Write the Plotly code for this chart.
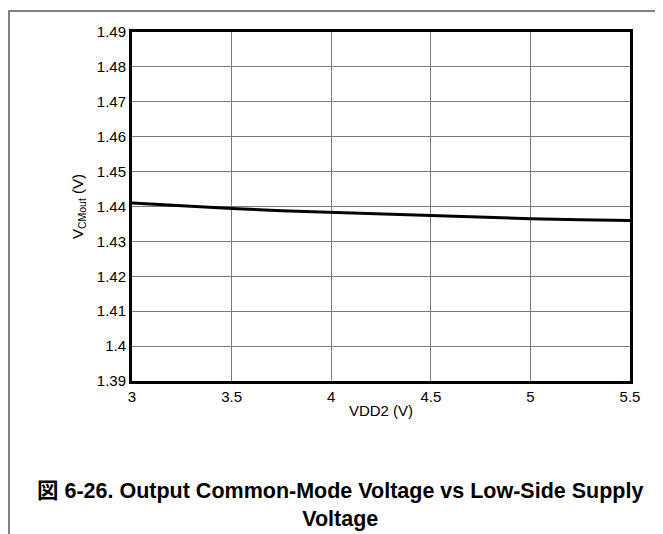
import plotly.graph_objects as go

vdd2 = [3.0, 3.25, 3.5, 3.75, 4.0, 4.25, 4.5, 4.75, 5.0, 5.25, 5.5]
vcmout = [1.4410, 1.4401, 1.4394, 1.4388, 1.4383, 1.4378, 1.4374, 1.4369, 1.4365, 1.4362, 1.4360]

x_ticks = [3, 3.5, 4, 4.5, 5, 5.5]
x_tick_labels = ["3", "3.5", "4", "4.5", "5", "5.5"]
y_ticks = [1.39, 1.40, 1.41, 1.42, 1.43, 1.44, 1.45, 1.46, 1.47, 1.48, 1.49]
y_tick_labels = ["1.39", "1.4", "1.41", "1.42", "1.43", "1.44", "1.45", "1.46", "1.47", "1.48", "1.49"]

W, H = 663, 534
L, R, T, B = 124, 41, 24, 161
pw, ph = W - L - R, H - T - B

def px_to_paper_x(px):
    return (px - L) / pw

def px_to_paper_y(py):
    return (H - B - py) / ph

font = "Liberation Sans, Arial, Noto Sans CJK JP, sans-serif"

fig = go.Figure()
fig.add_trace(go.Scatter(x=vdd2, y=vcmout, mode="lines",
                         line=dict(color="black", width=3), showlegend=False))

fig.update_layout(
    width=W, height=H,
    margin=dict(l=L, r=R, t=T, b=B),
    paper_bgcolor="white", plot_bgcolor="white",
    font=dict(family=font, size=15, color="black"),
    xaxis=dict(range=[3, 5.5], tickvals=x_ticks, ticktext=x_tick_labels,
               showgrid=True, gridcolor="#7a7a7a", gridwidth=1,
               showline=True, linecolor="black", linewidth=3, mirror=True,
               ticks="", zeroline=False,
               title=dict(text="VDD2 (V)", standoff=2, font=dict(size=15))),
    yaxis=dict(range=[1.39, 1.49], tickvals=y_ticks, ticktext=y_tick_labels,
               showgrid=True, gridcolor="#7a7a7a", gridwidth=1,
               showline=True, linecolor="black", linewidth=3, mirror=True,
               ticks="", zeroline=False,
               title=dict(text="V<sub>CMout</sub> (V)", standoff=10, font=dict(size=15))),
    shapes=[
        dict(type="line", xref="paper", yref="paper",
             x0=px_to_paper_x(0), x1=px_to_paper_x(W), y0=px_to_paper_y(3), y1=px_to_paper_y(3),
             line=dict(color="#808080", width=2)),
        dict(type="line", xref="paper", yref="paper",
             x0=px_to_paper_x(1), x1=px_to_paper_x(1), y0=px_to_paper_y(3), y1=px_to_paper_y(H),
             line=dict(color="#808080", width=2)),
    ],
    annotations=[
        dict(text="<b>図 6-26. Output Common-Mode Voltage vs Low-Side Supply<br>Voltage</b>",
             xref="paper", yref="paper", x=px_to_paper_x(W / 2), y=px_to_paper_y(497),
             xanchor="center", yanchor="middle", showarrow=False,
             font=dict(family=font, size=21.5, color="black"), align="center"),
    ],
)

fig.write_html("out.html")
